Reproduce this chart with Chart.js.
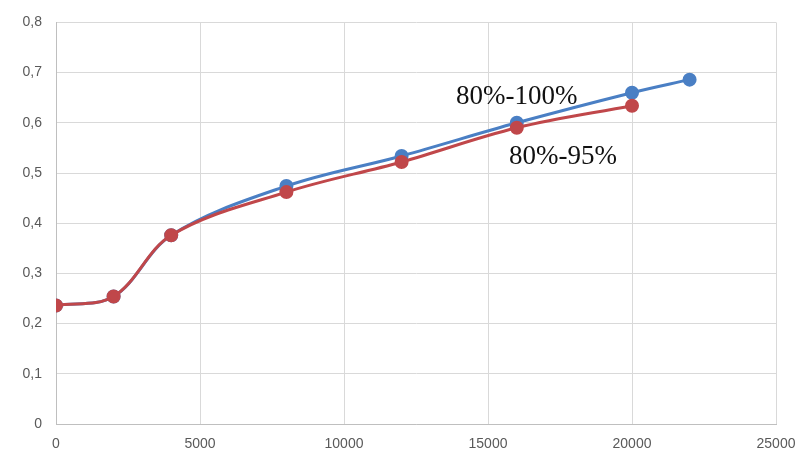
<!DOCTYPE html>
<html lang="en">
<head>
    <meta charset="UTF-8">
    <title>80%-100% / 80%-95%</title>
    <script src="https://cdn.jsdelivr.net/npm/chart.js@4"></script>
    <style>
        html, body { margin: 0; padding: 0; background: #fff; }
        .chart-box { width: 801px; height: 464px; position: relative; }
    </style>
</head>
<body>
    <div class="chart-box">
        <canvas id="lineChart"></canvas>
    </div>

    <script>
        const xBlue = [0, 2000, 4000, 8000, 12000, 16000, 20000, 22000];
        const yBlue = [0.236, 0.254, 0.376, 0.474, 0.534, 0.600, 0.660, 0.686];
        const xRed = [0, 2000, 4000, 8000, 12000, 16000, 20000];
        const yRed = [0.236, 0.254, 0.376, 0.462, 0.522, 0.590, 0.634];
        const labelBlue = '80%-100%';
        const labelRed = '80%-95%';

        const toPoints = (xs, ys) => xs.map((x, i) => ({ x: x, y: ys[i] }));

        // series names written next to the lines, like the original
        const seriesNames = {
            id: 'seriesNames',
            afterDatasetsDraw(chart) {
                const { ctx, scales } = chart;
                ctx.save();
                ctx.fillStyle = '#111';
                ctx.font = '27px "Liberation Serif", "DejaVu Serif", serif';
                ctx.textAlign = 'center';
                ctx.textBaseline = 'middle';
                ctx.fillText(labelBlue, scales.x.getPixelForValue(16000), scales.y.getPixelForValue(0.652));
                ctx.fillText(labelRed, scales.x.getPixelForValue(17600), scales.y.getPixelForValue(0.532));
                ctx.restore();
            }
        };

        const tickFont = { family: '"Liberation Sans", "Noto Sans", sans-serif', size: 14 };

        new Chart(document.getElementById('lineChart'), {
            type: 'scatter',
            data: {
                datasets: [{
                    label: labelRed,
                    data: toPoints(xRed, yRed),
                    borderColor: '#c0474a',
                    backgroundColor: '#c0474a',
                    showLine: true,
                    tension: 0.35,
                    borderWidth: 3,
                    pointRadius: 5.5,
                    order: 1
                }, {
                    label: labelBlue,
                    data: toPoints(xBlue, yBlue),
                    borderColor: '#4a7fc4',
                    backgroundColor: '#4a7fc4',
                    showLine: true,
                    tension: 0.35,
                    borderWidth: 3,
                    pointRadius: 5.5,
                    order: 2
                }]
            },
            options: {
                responsive: true,
                maintainAspectRatio: false,
                animation: false,
                layout: { padding: { top: 13, right: 25, left: 0, bottom: 0 } },
                plugins: {
                    legend: { display: false },
                    tooltip: { enabled: false }
                },
                scales: {
                    x: {
                        type: 'linear',
                        min: 0,
                        max: 25000,
                        ticks: {
                            stepSize: 5000,
                            color: '#595959',
                            font: tickFont,
                            padding: 12,
                            callback: v => String(v)
                        },
                        grid: { color: '#d9d9d9', drawTicks: false },
                        border: { color: '#bfbfbf' },
                        afterFit(scale) {
                            scale.height = 40;
                            scale.paddingRight = 0;
                            scale.paddingLeft = 0;
                        }
                    },
                    y: {
                        min: 0,
                        max: 0.8,
                        ticks: {
                            stepSize: 0.1,
                            color: '#595959',
                            font: tickFont,
                            padding: 14,
                            callback: v => String(Math.round(v * 10) / 10).replace('.', ',')
                        },
                        grid: { color: '#d9d9d9', drawTicks: false },
                        border: { color: '#bfbfbf' },
                        afterFit(scale) { scale.width = 56; }
                    }
                }
            },
            plugins: [seriesNames]
        });
    </script>
</body>
</html>
